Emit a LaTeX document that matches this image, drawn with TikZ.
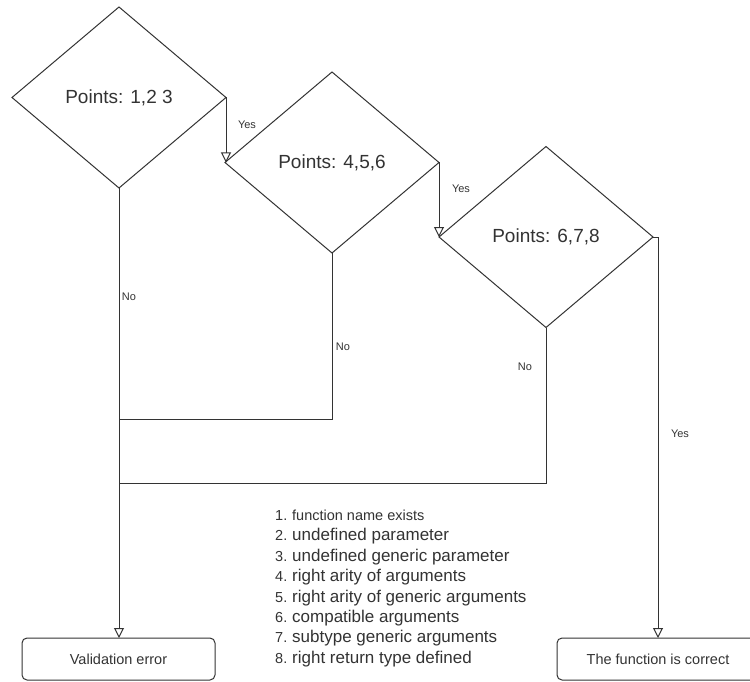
\documentclass[tikz,border=0pt]{standalone}
\usepackage{fontspec}
\setmainfont{Liberation Sans}
\usetikzlibrary{shapes.geometric,arrows.meta}
\definecolor{ink}{HTML}{333333}
\begin{document}
\begin{tikzpicture}[x=1pt,y=-1pt,
  decision/.style={diamond, draw=ink, line width=1pt, minimum width=214pt,
    minimum height=181pt, inner sep=0pt, outer sep=0pt,
    font=\fontsize{19}{22}\selectfont, text=ink},
  terminal/.style={rectangle, rounded corners=5pt, draw=ink, line width=1pt,
    minimum height=42pt, inner sep=0pt, outer sep=0pt,
    font=\fontsize{14.5}{17}\selectfont, text=ink},
  flow/.style={draw=ink, line width=1pt},
  arr/.style={flow, -{Triangle[open, length=10pt, width=10pt, line width=1pt]}},
  lbl/.style={font=\fontsize{11}{13}\selectfont, text=ink, inner sep=0pt},
  num/.style={font=\fontsize{14.5}{17}\selectfont, text=ink, inner sep=0pt, anchor=base west},
  item/.style={font=\fontsize{17}{20}\selectfont, text=ink, inner sep=0pt, anchor=base west}]

\useasboundingbox (0,0) rectangle (750,682);
\clip (0,0) rectangle (750,682);
\fill[white] (0,0) rectangle (750,682);

% decisions
\node[decision] (d1) at (119,97.5) {Points: 1,2 3};
\node[decision] (d2) at (332,162.5) {Points: 4,5,6};
\node[decision] (d3) at (546,237) {Points: 6,7,8};

% outcomes
\node[terminal, minimum width=193pt] (err) at (118.5,659) {Validation error};
\node[terminal, minimum width=202pt] (ok) at (658,659) {The function is correct};

% junction points
\coordinate (j1) at (119,419);
\coordinate (j2) at (119,483);
\coordinate (c3) at (658,237);

% yes branches
\draw[arr] (d1.east) -- (d1.east |- d2.west);
\draw[arr] (d2.east) -- (d2.east |- d3.west);
\draw[flow] (d3.east) -- (c3);
\draw[arr] (c3) -- (ok.north);

% no branches
\draw[arr] (d1.south) -- (d1.south |- err.north);
\draw[flow] (d2.south) |- (j1);
\draw[flow] (d3.south) |- (j2);

% branch labels
\node[lbl] (y1) at (247,125) {Yes};
\node[lbl] (y2) at (461,189) {Yes};
\node[lbl] (y3) at (680,434) {Yes};
\node[lbl] (n1) at (129,297) {No};
\node[lbl] (n2) at (343,347) {No};
\node[lbl] (n3) at (525,367) {No};

% legend
\node[num] (k1) at (275,520.5) {1.};
\node[item, font=\fontsize{14.5}{17}\selectfont] (i1) at (292,520.5) {function name exists};
\node[num] (k2) at (275,540.9) {2.};
\node[item] (i2) at (292,540.9) {undefined parameter};
\node[num] (k3) at (275,561.3) {3.};
\node[item] (i3) at (292,561.3) {undefined generic parameter};
\node[num] (k4) at (275,581.7) {4.};
\node[item] (i4) at (292,581.7) {right arity of arguments};
\node[num] (k5) at (275,602.1) {5.};
\node[item] (i5) at (292,602.1) {right arity of generic arguments};
\node[num] (k6) at (275,622.5) {6.};
\node[item] (i6) at (292,622.5) {compatible arguments};
\node[num] (k7) at (275,642.9) {7.};
\node[item] (i7) at (292,642.9) {subtype generic arguments};
\node[num] (k8) at (275,663.3) {8.};
\node[item] (i8) at (292,663.3) {right return type defined};
\end{tikzpicture}
\end{document}
